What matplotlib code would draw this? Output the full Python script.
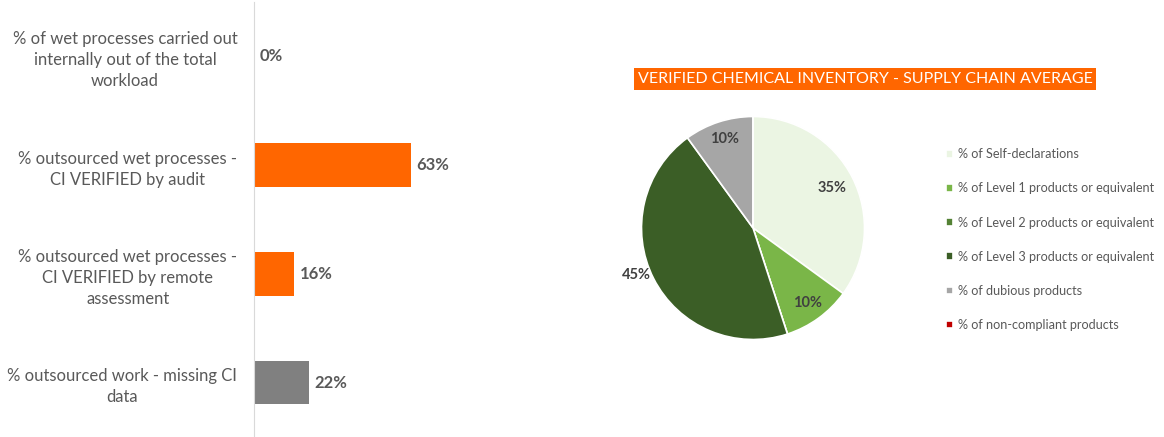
import numpy as np
import matplotlib
matplotlib.use("Agg")
import matplotlib.pyplot as plt

plt.rcParams['font.family'] = ['Lato', 'DejaVu Sans']

# bar chart data
bar_labels = [
    "% of wet processes carried out\ninternally out of the total\nworkload",
    "% outsourced wet processes -\nCI VERIFIED by audit",
    "% outsourced wet processes -\nCI VERIFIED by remote\nassessment",
    "% outsourced work - missing CI\ndata",
]
bar_values = [0, 63, 16, 22]
bar_colors = ["#FF6600", "#FF6600", "#FF6600", "#808080"]

# pie chart data
pie_title = "VERIFIED CHEMICAL INVENTORY - SUPPLY CHAIN AVERAGE"
pie_labels = [
    "% of Self-declarations",
    "% of Level 1 products or equivalent",
    "% of Level 2 products or equivalent",
    "% of Level 3 products or equivalent",
    "% of dubious products",
    "% of non-compliant products",
]
pie_values = [35, 10, 0, 45, 10, 0]
pie_colors = ["#EBF5E3", "#7AB648", "#548235", "#3B5E26", "#A6A6A6", "#C00000"]

text_grey = "#595959"
W, H = 1164, 437
fig = plt.figure(figsize=(W / 100, H / 100), dpi=100)

# ---- left: horizontal bars
ax = fig.add_axes([254 / W, 0, 249 / W, 435 / H])
y = np.arange(len(bar_values))
bars = ax.barh(y, bar_values, height=0.4, color=bar_colors)
ax.set_xlim(0, 100)
ax.set_ylim(3.5, -0.5)
ax.set_yticks(y)
ax.set_yticklabels(bar_labels, fontsize=12, color=text_grey, linespacing=1.38)
for lbl in ax.get_yticklabels():
    lbl.set_multialignment('center')
ax.tick_params(axis='y', length=0, pad=12)
ax.set_xticks([])
for s in ['top', 'right', 'bottom']:
    ax.spines[s].set_visible(False)
ax.spines['left'].set_color("#D9D9D9")
for b, v in zip(bars, bar_values):
    ax.annotate(f"{v}%", (b.get_width(), b.get_y() + b.get_height() / 2),
                xytext=(4, 0), textcoords='offset points', va='center',
                fontsize=12, fontweight='bold', color=text_grey)

# ---- right: pie
r_px = 111.5
cx, cy = 753, 228
side = 2.5 * r_px
pax = fig.add_axes([(cx - side / 2) / W, (H - cy - side / 2) / H, side / W, side / H])
wedges, _ = pax.pie(pie_values, colors=pie_colors, startangle=90, counterclock=False,
                    wedgeprops=dict(edgecolor='white', linewidth=1.2))
pax.set_xlim(-1.25, 1.25)
pax.set_ylim(-1.25, 1.25)
pax.set_aspect('equal')

# label placement (radius factor, angle shift) like Excel best fit
label_r = [0.80, 0.83, 0, 1.13, 0.84, 0]
label_shift = [0, 0, 0, -5, 0, 0]
for w, v, rr, sh in zip(wedges, pie_values, label_r, label_shift):
    if v == 0:
        continue
    ang = np.deg2rad((w.theta1 + w.theta2) / 2 + sh)
    pax.text(rr * np.cos(ang), rr * np.sin(ang), f"{v}%", ha='center', va='center',
             fontsize=10.5, fontweight='bold', color="#404040")

fig.text(865 / W, 1 - 79 / H, pie_title, ha='center', va='center', fontsize=11.5,
         color='white',
         bbox=dict(boxstyle='square,pad=0.25', facecolor='#FF6600', edgecolor='none'))

fig.legend(wedges, pie_labels, loc='upper left', bbox_to_anchor=(940 / W, 1 - 142 / H),
           frameon=False, fontsize=9.1, labelcolor=text_grey, handlelength=0.55,
           handleheight=0.55, handletextpad=0.4, labelspacing=1.75, borderpad=0)

fig.savefig("out.png", dpi=100)
